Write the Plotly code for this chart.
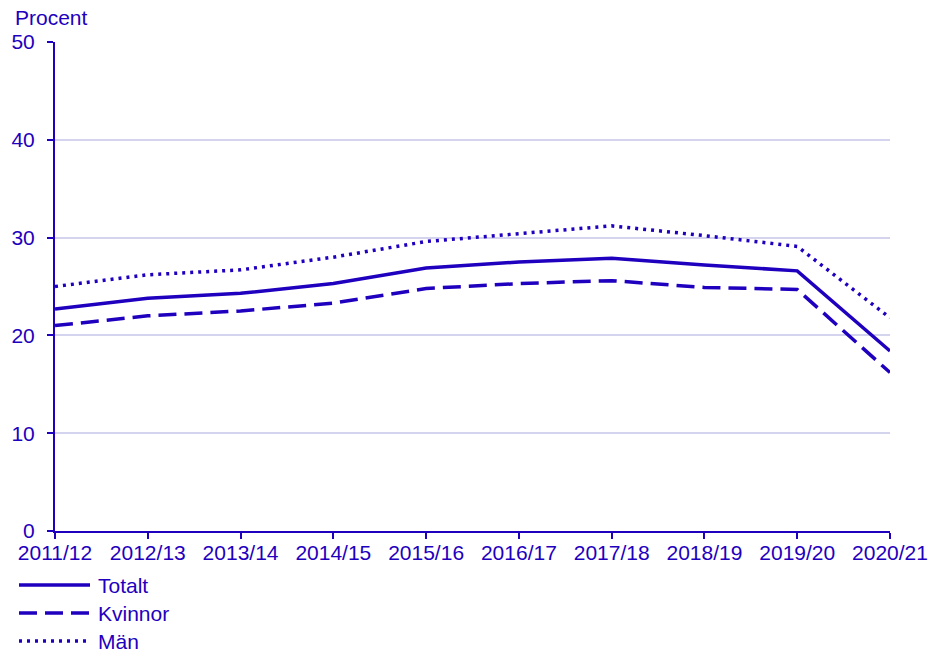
import plotly.graph_objects as go

years = ["2011/12", "2012/13", "2013/14", "2014/15", "2015/16",
         "2016/17", "2017/18", "2018/19", "2019/20", "2020/21"]
totalt = [22.7, 23.8, 24.3, 25.3, 26.9, 27.5, 27.9, 27.2, 26.6, 18.4]
kvinnor = [21.0, 22.0, 22.5, 23.3, 24.8, 25.3, 25.6, 24.9, 24.7, 16.2]
man = [25.0, 26.2, 26.7, 28.0, 29.6, 30.4, 31.2, 30.2, 29.1, 21.8]

series_names = ["Totalt", "Kvinnor", "Män"]
series_vals = [totalt, kvinnor, man]
dashes = ["solid", "18px,8px", "3px,5px"]

BLUE = "#1e00be"
GRID = "#d4d4ee"
FONT = "Liberation Sans, Arial, sans-serif"
FS = 21

fig = go.Figure()
for name, vals, d in zip(series_names, series_vals, dashes):
    fig.add_trace(go.Scatter(x=list(range(len(years))), y=vals, mode="lines",
                             name=name, showlegend=False,
                             line=dict(color=BLUE, width=3.5, dash=d)))

# custom legend (positions in page pixels relative to plot area)
L = 55
W = 835
B = 531
H = 489
rows = [585, 613, 641]
for name, d, py in zip(series_names, dashes, rows):
    yp = (B - py) / H
    fig.add_shape(type="line", xref="paper", yref="paper",
                  x0=(19 - L) / W, x1=(90 - L) / W, y0=yp, y1=yp,
                  line=dict(color=BLUE, width=3.5, dash=d))
    fig.add_annotation(text=name, xref="paper", yref="paper",
                       x=(96 - L) / W, y=yp, xanchor="left", yanchor="middle",
                       showarrow=False, font=dict(size=FS, color=BLUE, family=FONT))

fig.add_annotation(text="Procent", xref="paper", yref="paper",
                   x=(13 - L) / W, y=(B - 17) / H, xanchor="left", yanchor="middle",
                   showarrow=False, font=dict(size=FS, color=BLUE, family=FONT))

fig.update_layout(
    width=930, height=648,
    margin=dict(l=47, r=48, t=34, b=125),
    paper_bgcolor="white", plot_bgcolor="white",
    font=dict(family=FONT, size=FS, color=BLUE),
    showlegend=False,
)
fig.update_xaxes(
    tickmode="array", tickvals=list(range(len(years))), ticktext=years,
    range=[0, len(years) - 1], showgrid=False, zeroline=False,
    showline=True, linecolor=BLUE, linewidth=2, automargin=False,
    ticks="outside", ticklen=6, tickcolor=BLUE, tickwidth=2,
    tickfont=dict(size=FS, color=BLUE, family=FONT), ticklabelstandoff=-4,
)
fig.update_yaxes(
    range=[0, 50], dtick=10, showgrid=True, gridcolor=GRID, gridwidth=2,
    zeroline=False, showline=True, linecolor=BLUE, linewidth=2, automargin=False,
    ticks="outside", ticklen=6, tickcolor=BLUE, tickwidth=2,
    tickfont=dict(size=FS, color=BLUE, family=FONT), ticklabelstandoff=8,
)

fig.write_html("out.html")
